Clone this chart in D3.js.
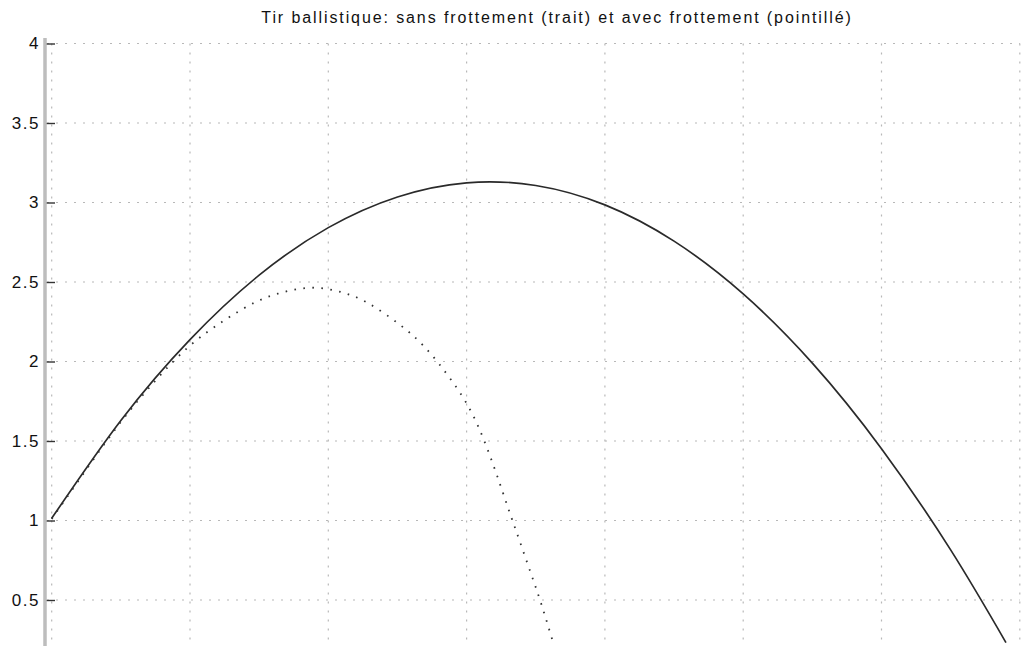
<!DOCTYPE html>
<html>
<head>
<meta charset="utf-8">
<script src="https://cdn.jsdelivr.net/npm/d3@7"></script>
<style>
  body { margin: 0; background: #fff; }
  svg { display: block; }
  text { font-family: "Liberation Sans", Arial, sans-serif; fill: #111; }
</style>
</head>
<body>
<div class="chart"></div>
<script>
// trajectory without drag (solid line)
const xSolid = [0, 0.5, 1, 1.5, 2, 2.5, 3, 3.5, 4, 4.5, 5, 5.5, 6, 6.5, 6.9]
const ySolid = [1.014, 1.629, 2.138, 2.543, 2.842, 3.035, 3.124, 3.107, 2.985, 2.757, 2.425, 1.99, 1.452, 0.815, 0.232]

// trajectory with drag (dotted line)
const xDrag = [0, 0.25, 0.5, 0.75, 1.0, 1.25, 1.48, 1.68, 1.89, 2.10, 2.29, 2.51, 2.70, 2.89, 3.09, 3.28, 3.36, 3.46, 3.54, 3.63]
const yDrag = [1.01, 1.32, 1.62, 1.88, 2.10, 2.26, 2.376, 2.437, 2.464, 2.435, 2.366, 2.236, 2.088, 1.882, 1.580, 1.13, 0.93, 0.68, 0.475, 0.22]

// ticks
const yTicks = [0.5, 1, 1.5, 2, 2.5, 3, 3.5, 4]
const xTicks = [0, 1, 2, 3, 4, 5, 6, 7]

const title = "Tir ballistique: sans frottement (trait) et avec frottement (pointillé)"

const w = 1023
const h = 646

const svg = d3.select(".chart")
  .append("svg")
  .attr("width", w)
  .attr("height", h)

// scales (the picture is cut at the bottom and right)
const xScale = d3.scaleLinear()
  .domain([0, 7])
  .range([51.7, 51.7 + 7 * 138.3])

const yScale = d3.scaleLinear()
  .domain([1, 4])
  .range([520.5, 43.5])

const axisX = 45

// grid
svg.append("g")
  .selectAll("line")
  .data(yTicks)
  .enter()
  .append("line")
  .attr("x1", axisX + 2)
  .attr("x2", xScale(7))
  .attr("y1", d => yScale(d))
  .attr("y2", d => yScale(d))
  .attr("stroke", "#b8b8b8")
  .attr("stroke-width", 1.2)
  .attr("stroke-dasharray", "2,7")

svg.append("g")
  .selectAll("line")
  .data(xTicks)
  .enter()
  .append("line")
  .attr("x1", d => xScale(d))
  .attr("x2", d => xScale(d))
  .attr("y1", yScale(4))
  .attr("y2", h)
  .attr("stroke", "#b8b8b8")
  .attr("stroke-width", 1.2)
  .attr("stroke-dasharray", "2,7")

// y axis
const yAxis = d3.axisLeft(yScale)
  .tickValues(yTicks)
  .tickSize(-10)
  .tickPadding(6)
  .tickFormat(d => d3.format("~g")(d))

const gy = svg.append("g")
  .attr("transform", "translate(" + axisX + ",0)")
  .call(yAxis)

gy.select(".domain").remove()
gy.selectAll(".tick line").attr("stroke", "#333").attr("stroke-width", 1.4)
gy.selectAll(".tick text")
  .attr("x", -5)
  .style("font-size", "17px")
  .style("letter-spacing", "1.5px")
  .style("font-family", "Liberation Sans, Arial, sans-serif")
  .attr("fill", "#111")

svg.append("line")
  .attr("x1", axisX)
  .attr("x2", axisX)
  .attr("y1", 38)
  .attr("y2", h)
  .attr("stroke", "#bdbdbd")
  .attr("stroke-width", 3.5)

// curves
const line = d3.line()
  .x(d => xScale(d[0]))
  .y(d => yScale(d[1]))
  .curve(d3.curveNatural)

svg.append("path")
  .datum(d3.zip(xSolid, ySolid))
  .attr("d", line)
  .attr("fill", "none")
  .attr("stroke", "#2a2a2a")
  .attr("stroke-width", 1.7)

svg.append("path")
  .datum(d3.zip(xDrag, yDrag))
  .attr("d", line)
  .attr("fill", "none")
  .attr("stroke", "#333")
  .attr("stroke-width", 1.8)
  .attr("stroke-dasharray", "1.6,7.4")

// title
svg.append("text")
  .attr("x", 557)
  .attr("y", 23)
  .attr("text-anchor", "middle")
  .style("font-size", "16px")
  .style("letter-spacing", "1.9px")
  .text(title)
</script>
</body>
</html>
